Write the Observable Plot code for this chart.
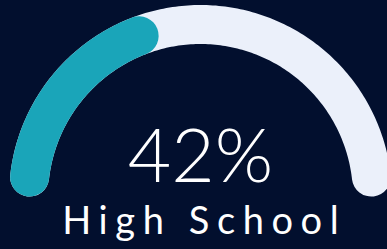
<!DOCTYPE html>
<html><head><meta charset="utf-8">
<script src="https://cdn.jsdelivr.net/npm/d3@7"></script>
<script src="https://cdn.jsdelivr.net/npm/@observablehq/plot@0.6"></script>
<style>
html,body{margin:0;padding:0;background:#020f2e;overflow:hidden;}
#chart svg{display:block;}
</style></head><body><div id="chart"></div>
<script>
// ---- data ----
const categories = ["High School"];
const values = [42];
const maxValues = [100];
const valueLabels = ["42%"];

// ---- gauge geometry ----
const W = 387, H = 249;
const radius = 172;        // centerline radius
const thickness = 39;      // ring thickness
const capAngle = (thickness / 2) / radius;
const angle = d3.scaleLinear().domain([0, maxValues[0]]).range([-Math.PI / 2, Math.PI / 2]);

function arcPoints(a0, a1, key) {
  const n = 180;
  return d3.range(n + 1).map(i => {
    const a = a0 + (a1 - a0) * i / n;
    return {key, x: radius * Math.sin(a), y: radius * Math.cos(a)};
  });
}
const track = arcPoints(angle(0) + capAngle, angle(maxValues[0]) - capAngle, "track");
const fill = arcPoints(angle(0) + capAngle, angle(values[0]) - capAngle, categories[0]);

const valueText = valueLabels.map(t => ({x: 0, y: 15, text: t}));
const catText = categories.map(t => ({x: 0, y: -37, text: t}));
const catSpacing = 7.6;

const chart = Plot.plot({
  width: W, height: H,
  margin: 0,
  x: {domain: [-200, 187], axis: null},
  y: {domain: [-53, 196], axis: null},
  style: {background: "#020f2e", overflow: "hidden"},
  marks: [
    Plot.line(track, {x: "x", y: "y", stroke: "#ebf0fa", strokeWidth: thickness, strokeLinecap: "round", curve: "linear"}),
    Plot.line(fill, {x: "x", y: "y", stroke: "#1aa5b9", strokeWidth: thickness, strokeLinecap: "round", curve: "linear"}),
    Plot.text(valueText, {x: "x", y: "y", text: "text", fill: "#ffffff", fontSize: 75, fontWeight: 300, fontFamily: "Lato, 'Open Sans', sans-serif", lineAnchor: "bottom", textAnchor: "middle"}),
    Plot.text(catText, {x: "x", y: "y", text: "text", fill: "#ffffff", fontSize: 38, fontWeight: 400, fontFamily: "Lato, 'Open Sans', sans-serif", lineAnchor: "bottom", textAnchor: "middle", dx: catSpacing / 2})
  ]
});
d3.select(chart).selectAll("text")
  .filter(function () { return categories.includes(this.textContent); })
  .style("letter-spacing", catSpacing + "px");
document.getElementById("chart").appendChild(chart);
</script></body></html>
